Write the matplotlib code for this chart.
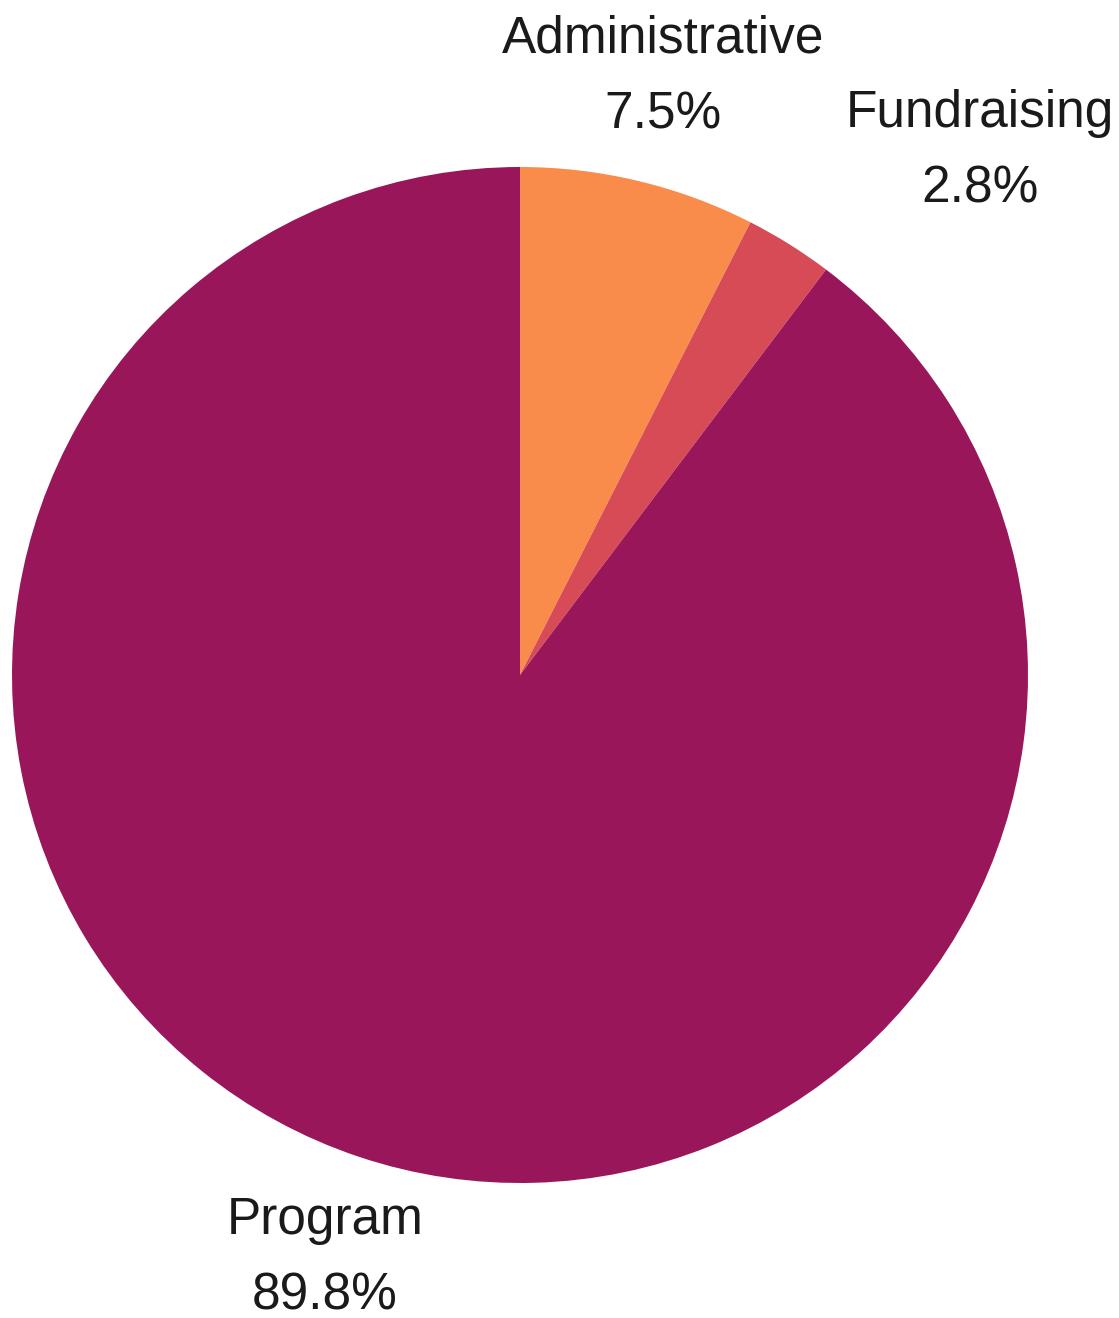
import matplotlib
matplotlib.use("Agg")
import matplotlib.pyplot as plt

# expense breakdown
categories = ["Administrative", "Fundraising", "Program"]
shares = [7.5, 2.8, 89.8]
colors = ["#FA8C4B", "#D64B55", "#9A165A"]

plt.rcParams["font.family"] = ["Liberation Sans", "DejaVu Sans"]

W, H = 1119, 1318
fig = plt.figure(figsize=(W / 100, H / 100), dpi=100)
ax = fig.add_axes([0, 0, 1, 1])

labels = [f"{c}\n{v}%" for c, v in zip(categories, shares)]
wedges, texts = ax.pie(
    shares,
    labels=labels,
    colors=colors,
    startangle=90,
    counterclock=False,
    center=(520, H - 675),
    radius=508,
    labeldistance=1.21,
    frame=True,
    textprops=dict(fontsize=37, color="#1a1a1a", ha="center", va="center", linespacing=1.7),
)
ax.set_xlim(0, W)
ax.set_ylim(0, H)
ax.set_aspect("equal")
ax.axis("off")

# push the small slice's label out so it clears the Administrative label
texts[1].set_position((980, H - 151))
for t in texts:
    t.set_horizontalalignment("center")

fig.savefig("out.png", dpi=100)
